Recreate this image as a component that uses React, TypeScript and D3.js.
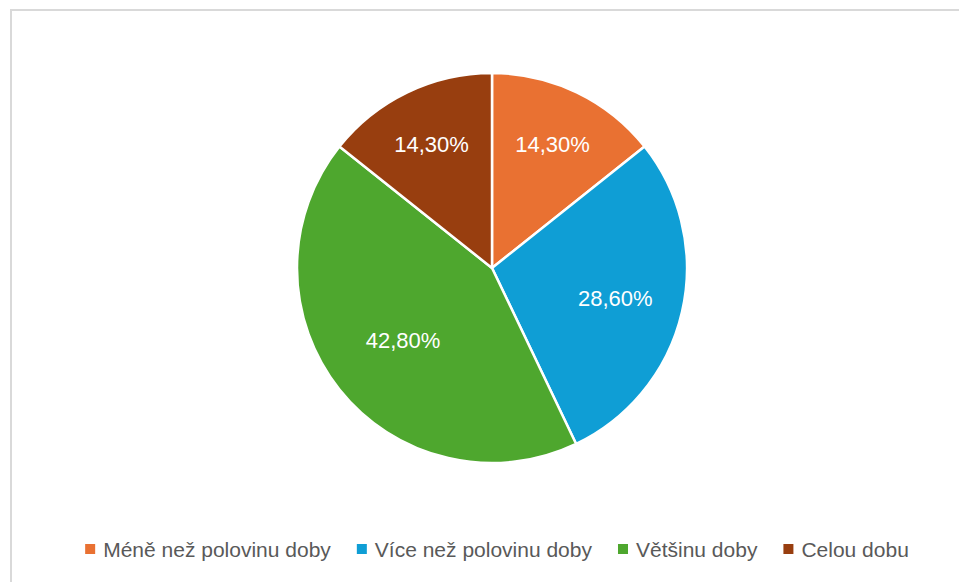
import { useEffect, useRef } from "react";
import * as d3 from "d3";

const categories = ["Méně než polovinu doby", "Více než polovinu doby", "Většinu doby", "Celou dobu"];
const values = [14.3, 28.6, 42.8, 14.3];
const colors = ["#E97132", "#0F9ED5", "#4EA72E", "#983E0F"];

const W = 959;
const H = 582;
const cx = 492;
const cy = 268;
const R = 195;
const font = "'Liberation Sans', Arial, sans-serif";

const fmt = (v: number) => v.toFixed(2).replace(".", ",") + "%";

export default function App() {
  const ref = useRef<SVGSVGElement>(null);

  useEffect(() => {
    const svg = d3.select(ref.current);
    svg.selectAll("*").remove();

    // chart area border, only left and top edges fall inside the picture
    svg
      .append("path")
      .attr("d", `M11,${H} V10 H${W}`)
      .attr("fill", "none")
      .attr("stroke", "#d9d9d9")
      .attr("stroke-width", 2);

    const pie = d3.pie<number>().sort(null).value((d) => d);
    const arcs = pie(values);
    const arc = d3.arc<d3.PieArcDatum<number>>().innerRadius(0).outerRadius(R);

    const g = svg.append("g").attr("transform", `translate(${cx},${cy})`);
    g.selectAll("path")
      .data(arcs)
      .join("path")
      .attr("d", arc)
      .attr("fill", (_, i) => colors[i])
      .attr("stroke", "#fff")
      .attr("stroke-width", 2.5)
      .attr("stroke-linejoin", "round");

    // excel "best fit": smaller slices push their label further out
    g.selectAll("text")
      .data(arcs)
      .join("text")
      .attr("transform", (d) => {
        const a = (d.startAngle + d.endAngle) / 2;
        const r = R * (0.78 - 0.0046 * d.data);
        return `translate(${Math.sin(a) * r},${-Math.cos(a) * r + 2})`;
      })
      .attr("text-anchor", "middle")
      .attr("dominant-baseline", "central")
      .attr("fill", "#fff")
      .attr("font-family", font)
      .attr("font-size", 22)
      .text((d) => fmt(d.data));

    // legend
    const lg = svg.append("g").attr("transform", `translate(0,549)`);
    const items = lg.selectAll("g").data(categories).join("g");
    items
      .append("rect")
      .attr("width", 10)
      .attr("height", 10)
      .attr("y", -5)
      .attr("fill", (_, i) => colors[i]);
    const texts = items
      .append("text")
      .attr("x", 18)
      .attr("dominant-baseline", "central")
      .attr("fill", "#595959")
      .attr("font-family", font)
      .attr("font-size", 21)
      .text((d) => d);

    const widths: number[] = [];
    texts.each(function () {
      widths.push(18 + (this as SVGTextElement).getComputedTextLength());
    });
    const gap = 26;
    const total = d3.sum(widths) + gap * (widths.length - 1);
    let x = 497 - total / 2;
    items.attr("transform", (_, i) => {
      const t = `translate(${x},0)`;
      x += widths[i] + gap;
      return t;
    });
  }, []);

  return (
    <svg
      ref={ref}
      width={W}
      height={H}
      style={{ position: "absolute", left: 0, top: 0, display: "block" }}
    />
  );
}
